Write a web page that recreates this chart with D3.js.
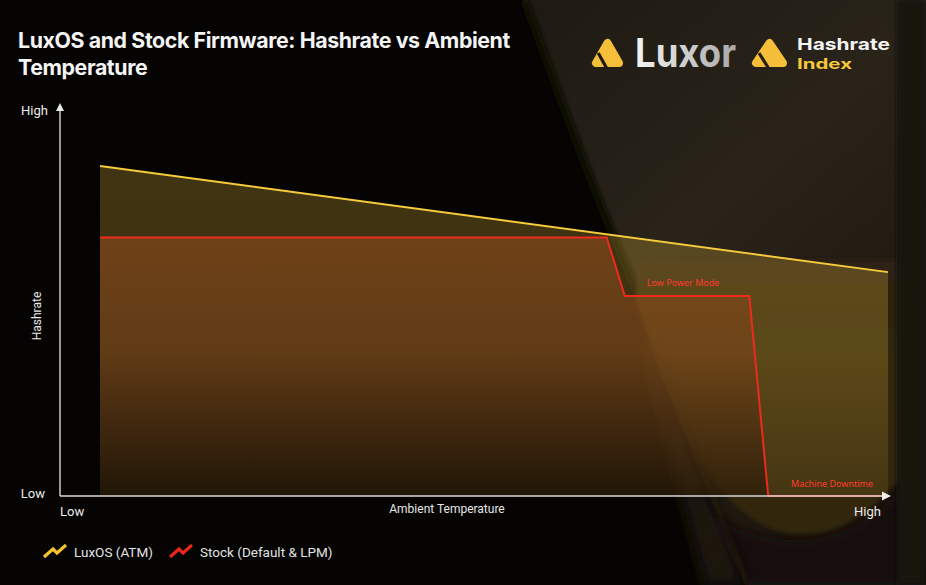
<!DOCTYPE html>
<html><head><meta charset="utf-8">
<script src="https://cdn.jsdelivr.net/npm/d3@7"></script>
<style>html,body{margin:0;padding:0;background:#000;} svg{display:block}</style>
</head><body><svg id="c" width="926" height="585"></svg>
<script>
// ---- data ----
const titleLines = ["LuxOS and Stock Firmware: Hashrate vs Ambient", "Temperature"];
const xTickLabels = ["Low", "High"];
const yTickLabels = ["Low", "High"];
const xAxisTitle = "Ambient Temperature";
const yAxisTitle = "Hashrate";
const seriesNames = ["LuxOS (ATM)", "Stock (Default & LPM)"];
const luxosTemp = [0, 100];
const luxosHash = [85.5, 58];
const stockTemp = [0, 64.3, 66.6, 82.4, 84.8, 100];
const stockHash = [67, 67, 51.8, 51.8, 0, 0];
const annotationText = ["Low Power Mode", "Machine Downtime"];
const annotationTemp = [74.0, 92.9];
const annotationHash = [54.4, 2.3];

const luxos = luxosTemp.map((t, i) => ({t, h: luxosHash[i]}));
const stock = stockTemp.map((t, i) => ({t, h: stockHash[i]}));

const svg = d3.select("#c");
const W = 926, H = 585;
const defs = svg.append("defs");

// ---- background ----
const blur = (id, s) => defs.append("filter").attr("id", id).attr("x", "-20%").attr("y", "-20%").attr("width", "140%").attr("height", "140%")
  .append("feGaussianBlur").attr("stdDeviation", s);
blur("b2", 2); blur("b4", 4); blur("b8", 8);

const rg = defs.append("linearGradient").attr("id", "rightGlow").attr("gradientUnits", "userSpaceOnUse")
  .attr("x1", 560).attr("y1", 0).attr("x2", 926).attr("y2", 420);
rg.append("stop").attr("offset", 0).attr("stop-color", "#1f1b13");
rg.append("stop").attr("offset", 0.45).attr("stop-color", "#29231a");
rg.append("stop").attr("offset", 1).attr("stop-color", "#1c160d");

const ug = defs.append("linearGradient").attr("id", "uGlow").attr("x1", 0).attr("y1", 0).attr("x2", 0).attr("y2", 1);
ug.append("stop").attr("offset", 0).attr("stop-color", "#2e2412");
ug.append("stop").attr("offset", 1).attr("stop-color", "#33270f");

const bg = svg.append("g");
bg.append("rect").attr("width", W).attr("height", H).attr("fill", "#050403");
bg.append("path").attr("d", "M522,0 L926,0 L926,585 L745,585 C700,470 660,380 640,300 Z")
  .attr("fill", "url(#rightGlow)");
bg.append("path").attr("d", "M524,0 C560,100 600,210 640,300")
  .attr("stroke", "#0a0806").attr("stroke-width", 8).attr("fill", "none").attr("filter", "url(#b2)");
bg.append("path").attr("d", "M636,300 C668,400 705,505 775,530 C825,545 865,520 900,478 L900,260 L640,260 Z")
  .attr("fill", "url(#uGlow)").attr("filter", "url(#b2)");
bg.append("path").attr("d", "M700,505 C730,530 755,538 790,540 C840,542 872,520 902,488 L926,585 L748,585 Z")
  .attr("fill", "#120e07").attr("filter", "url(#b4)");
bg.append("path").attr("d", "M655,360 C690,450 720,520 745,585 L705,585 C682,500 662,430 640,330 Z")
  .attr("fill", "#1a140a").attr("filter", "url(#b8)");
bg.append("rect").attr("x", 897).attr("y", 0).attr("width", 29).attr("height", H).attr("fill", "#16120b").attr("filter", "url(#b2)");

// ---- scales ----
const x = d3.scaleLinear().domain([0, 100]).range([100, 888]);
const y = d3.scaleLinear().domain([0, 100]).range([496, 110]);

// ---- area gradients ----
const yg = defs.append("linearGradient").attr("id", "yFill").attr("gradientUnits", "userSpaceOnUse")
  .attr("x1", 0).attr("y1", y(luxosHash[0])).attr("x2", 0).attr("y2", y(0));
yg.append("stop").attr("offset", 0).attr("stop-color", "rgb(205,165,55)").attr("stop-opacity", 0.3);
yg.append("stop").attr("offset", 0.55).attr("stop-color", "rgb(205,165,55)").attr("stop-opacity", 0.28);
yg.append("stop").attr("offset", 1).attr("stop-color", "rgb(205,165,55)").attr("stop-opacity", 0.12);

const sg = defs.append("linearGradient").attr("id", "sFill").attr("gradientUnits", "userSpaceOnUse")
  .attr("x1", 0).attr("y1", y(stockHash[0])).attr("x2", 0).attr("y2", y(0));
sg.append("stop").attr("offset", 0).attr("stop-color", "rgb(140,75,28)").attr("stop-opacity", 0.62);
sg.append("stop").attr("offset", 0.45).attr("stop-color", "rgb(120,66,24)").attr("stop-opacity", 0.6);
sg.append("stop").attr("offset", 1).attr("stop-color", "rgb(35,20,6)").attr("stop-opacity", 0.6);

const area = d3.area().x(d => x(d.t)).y0(y(0)).y1(d => y(d.h));
const line = d3.line().x(d => x(d.t)).y(d => y(d.h));

const plot = svg.append("g");
plot.append("path").datum(luxos).attr("d", area).attr("fill", "url(#yFill)");
plot.append("path").datum(stock.filter(d => d.h > 0 || d.t <= stockTemp[4])).attr("d", area).attr("fill", "url(#sFill)");

// ---- axes ----
const axisColor = "#d8d8d8";
const ax = svg.append("g");
ax.append("line").attr("x1", 60).attr("y1", y(0)).attr("x2", 60).attr("y2", 110).attr("stroke", axisColor).attr("stroke-width", 1.4);
ax.append("path").attr("d", "M60,103 L56,111 L64,111 Z").attr("fill", "#e8e8e8");
ax.append("line").attr("x1", 60).attr("y1", y(0)).attr("x2", 884).attr("y2", y(0)).attr("stroke", axisColor).attr("stroke-width", 1.4);

plot.append("path").datum(stock).attr("d", line).attr("fill", "none").attr("stroke", "#ee2a1e").attr("stroke-width", 2).attr("stroke-linejoin", "miter");
plot.append("path").datum(luxos).attr("d", line).attr("fill", "none").attr("stroke", "#f6cb3c").attr("stroke-width", 2);
ax.append("path").attr("d", "M891,496 L882,491.5 L882,500.5 Z").attr("fill", "#eeeeee");

const lblFont = "Roboto, 'Liberation Sans', sans-serif";
const txt = (t, px, py, anchor, size, fill) => svg.append("text").attr("x", px).attr("y", py).attr("text-anchor", anchor)
  .attr("font-family", lblFont).attr("font-size", size).attr("fill", fill).text(t);

txt(yTickLabels[1], 48, 115, "end", 13, "#ececec");
txt(yTickLabels[0], 45, 498, "end", 13, "#ececec");
txt(xTickLabels[0], 60, 516, "start", 13, "#ececec");
txt(xTickLabels[1], 881, 516, "end", 13, "#ececec");
txt(xAxisTitle, 447, 513, "middle", 12, "#e6e6e6");
svg.append("text").attr("transform", "translate(41,316) rotate(-90)").attr("text-anchor", "middle")
  .attr("font-family", lblFont).attr("font-size", 12).attr("fill", "#e6e6e6").text(yAxisTitle);

annotationText.forEach((t, i) => {
  svg.append("text").attr("x", x(annotationTemp[i])).attr("y", y(annotationHash[i])).attr("text-anchor", "middle")
    .attr("font-family", "'Noto Sans', sans-serif").attr("font-size", 9).attr("fill", "#ff3b2c").text(t);
});

// ---- title ----
const title = svg.append("g");
titleLines.forEach((t, i) => {
  title.append("text").attr("x", 18).attr("y", 48 + i * 27).attr("font-family", "Inter, sans-serif")
    .attr("font-weight", 700).attr("font-size", 21).attr("letter-spacing", -0.4).attr("fill", "#f4f4f4").text(t);
});
{
  const nodes = title.selectAll("text").nodes();
  const w = nodes[0].getComputedTextLength();
  const fs = 21 * 492 / w;
  title.selectAll("text").attr("font-size", fs);
}

// ---- logos ----
function icon(x0, y0, w, h, gapColor) {
  const g = svg.append("g");
  const r = 4;
  g.append("path").attr("d", `M${x0 + w / 2},${y0 + r} L${x0 + r},${y0 + h - r} L${x0 + w - r},${y0 + h - r} Z`)
    .attr("fill", "#f5bf3a").attr("stroke", "#f5bf3a").attr("stroke-width", 2 * r).attr("stroke-linejoin", "round");
  g.append("line").attr("x1", x0 + w * 0.2).attr("y1", y0 + h * 0.5).attr("x2", x0 + w * 0.47).attr("y2", y0 + h + 1)
    .attr("stroke", gapColor).attr("stroke-width", 3.2);
}
icon(592, 39, 31, 28, "#1e1a11");
icon(752, 39, 35, 28, "#241f15");

const lg = defs.append("linearGradient").attr("id", "luxorG").attr("x1", 0).attr("y1", 0).attr("x2", 1).attr("y2", 0);
lg.append("stop").attr("offset", 0).attr("stop-color", "#f4f4f4");
lg.append("stop").attr("offset", 1).attr("stop-color", "#a9a9a9");
svg.append("text").attr("x", 635).attr("y", 67).attr("font-family", "Inter, sans-serif").attr("font-weight", 700)
  .attr("font-size", 40).attr("textLength", 101).attr("lengthAdjust", "spacingAndGlyphs").attr("fill", "url(#luxorG)").text("Luxor");
svg.append("text").attr("x", 797).attr("y", 50).attr("font-family", "Inter, sans-serif").attr("font-weight", 700)
  .attr("font-size", 16.5).attr("textLength", 93).attr("lengthAdjust", "spacingAndGlyphs").attr("fill", "#f4f4f4").text("Hashrate");
svg.append("text").attr("x", 797).attr("y", 69).attr("font-family", "Inter, sans-serif").attr("font-weight", 700)
  .attr("font-size", 14.5).attr("textLength", 55).attr("lengthAdjust", "spacingAndGlyphs").attr("fill", "#f5c83a").text("Index");

// ---- legend ----
const legColors = ["#f3c22f", "#e8261c"];
const legX = [44, 170], legTextX = [74, 200];
seriesNames.forEach((n, i) => {
  const lx = legX[i];
  svg.append("path").attr("d", `M${lx},557 L${lx + 9},549 L${lx + 13},553 L${lx + 22},545`)
    .attr("fill", "none").attr("stroke", legColors[i]).attr("stroke-width", 3.2).attr("stroke-linejoin", "miter");
  svg.append("text").attr("x", legTextX[i]).attr("y", 557).attr("font-family", lblFont).attr("font-size", 13.5)
    .attr("fill", "#e2e2e2").text(n);
});
</script></body></html>
